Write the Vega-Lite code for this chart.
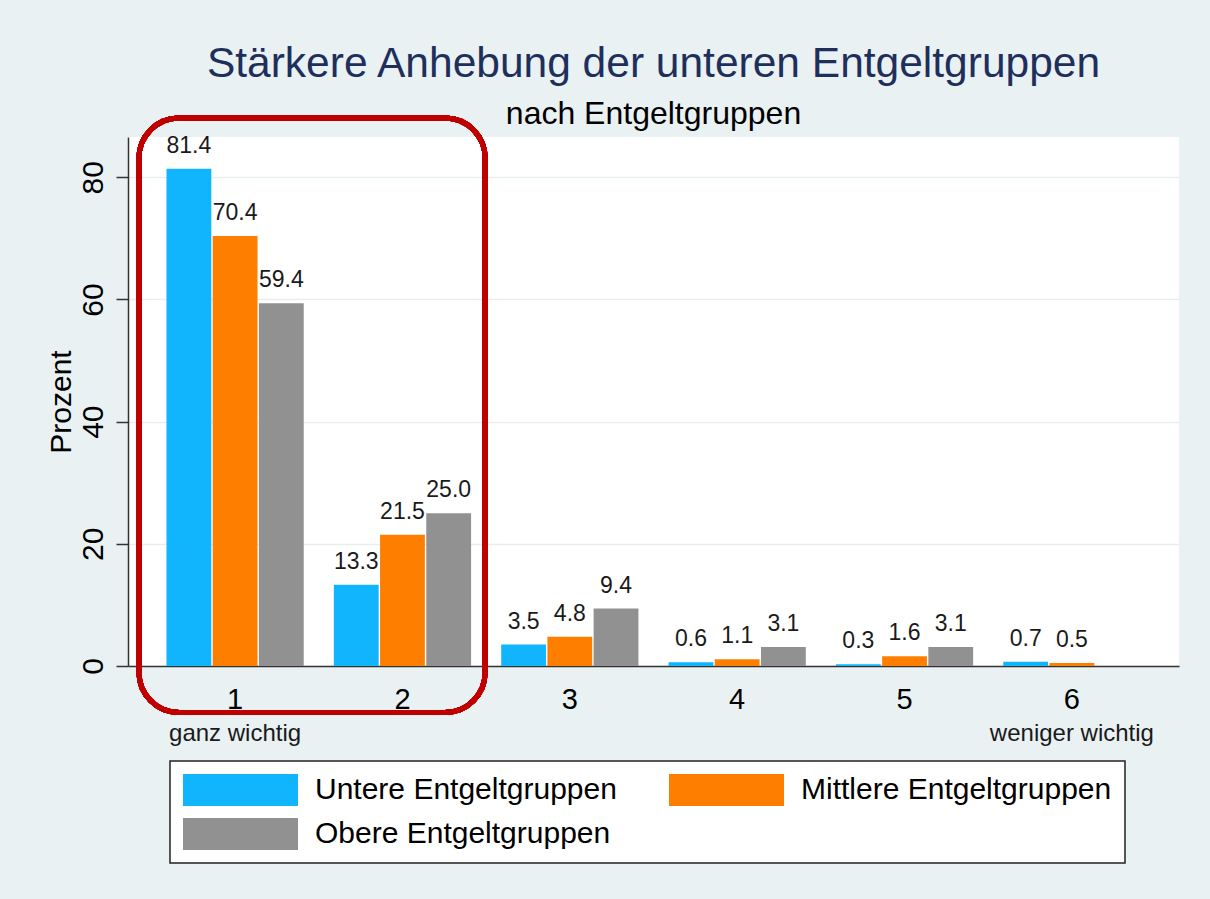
{
  "$schema": "https://vega.github.io/schema/vega-lite/v6.json",
  "width": 1051,
  "height": 529,
  "autosize": {"type": "none"},
  "padding": {"left": 128, "top": 137, "right": 31, "bottom": 233},
  "background": "#e9f1f3",
  "title": {
    "text": "Stärkere Anhebung der unteren Entgeltgruppen",
    "subtitle": "nach Entgeltgruppen",
    "anchor": "middle",
    "font": "Liberation Sans",
    "fontSize": 42.5,
    "fontWeight": "normal",
    "color": "#1f2f5c",
    "subtitleFont": "Liberation Sans",
    "subtitleFontSize": 32,
    "subtitleColor": "#000000",
    "subtitlePadding": 13,
    "offset": -14
  },
  "config": {"view": {"stroke": null, "fill": "white"}, "font": "Liberation Sans"},
  "data": {
    "values": [
      {"stufe": "1", "gruppe": "Untere Entgeltgruppen", "prozent": 81.4},
      {"stufe": "1", "gruppe": "Mittlere Entgeltgruppen", "prozent": 70.4},
      {"stufe": "1", "gruppe": "Obere Entgeltgruppen", "prozent": 59.4},
      {"stufe": "2", "gruppe": "Untere Entgeltgruppen", "prozent": 13.3},
      {"stufe": "2", "gruppe": "Mittlere Entgeltgruppen", "prozent": 21.5},
      {"stufe": "2", "gruppe": "Obere Entgeltgruppen", "prozent": 25.0},
      {"stufe": "3", "gruppe": "Untere Entgeltgruppen", "prozent": 3.5},
      {"stufe": "3", "gruppe": "Mittlere Entgeltgruppen", "prozent": 4.8},
      {"stufe": "3", "gruppe": "Obere Entgeltgruppen", "prozent": 9.4},
      {"stufe": "4", "gruppe": "Untere Entgeltgruppen", "prozent": 0.6},
      {"stufe": "4", "gruppe": "Mittlere Entgeltgruppen", "prozent": 1.1},
      {"stufe": "4", "gruppe": "Obere Entgeltgruppen", "prozent": 3.1},
      {"stufe": "5", "gruppe": "Untere Entgeltgruppen", "prozent": 0.3},
      {"stufe": "5", "gruppe": "Mittlere Entgeltgruppen", "prozent": 1.6},
      {"stufe": "5", "gruppe": "Obere Entgeltgruppen", "prozent": 3.1},
      {"stufe": "6", "gruppe": "Untere Entgeltgruppen", "prozent": 0.7},
      {"stufe": "6", "gruppe": "Mittlere Entgeltgruppen", "prozent": 0.5}
    ]
  },
  "layer": [
    {
      "mark": {"type": "bar"},
      "encoding": {
        "x": {
          "field": "stufe", "type": "nominal",
          "scale": {"domain": ["1", "2", "3", "4", "5", "6"], "paddingInner": 0.18, "paddingOuter": 0.23},
          "axis": {
            "orient": "bottom", "title": null, "labelAngle": 0, "labelFontSize": 29, "labelColor": "#000000",
            "labelBaseline": "top", "labelPadding": 19, "ticks": false, "tickSize": 0,
            "domainColor": "#333333", "domainWidth": 1.5, "grid": false
          }
        },
        "xOffset": {
          "field": "gruppe", "type": "nominal",
          "scale": {"domain": ["Untere Entgeltgruppen", "Mittlere Entgeltgruppen", "Obere Entgeltgruppen"], "paddingInner": 0.03}
        },
        "y": {
          "field": "prozent", "type": "quantitative",
          "scale": {"domain": [0, 86.6], "nice": false},
          "axis": {
            "title": "Prozent", "values": [0, 20, 40, 60, 80], "labelAngle": -90, "labelAlign": "center",
            "labelBaseline": "bottom", "labelFontSize": 30, "labelColor": "#000000", "labelPadding": 8,
            "tickSize": 12, "tickColor": "#333333", "tickWidth": 1.5, "domainColor": "#333333", "domainWidth": 1.5,
            "gridColor": "#e6eef1", "gridWidth": 1.5, "titleFontSize": 30, "titleFontWeight": "normal",
            "titleColor": "#000000", "titlePadding": 2
          }
        },
        "color": {
          "field": "gruppe", "type": "nominal",
          "scale": {"domain": ["Untere Entgeltgruppen", "Mittlere Entgeltgruppen", "Obere Entgeltgruppen"], "range": ["#11b5fe", "#fe7f00", "#919191"]},
          "legend": {
            "title": null, "orient": "none", "legendX": 42, "legendY": 624, "columns": 2, "direction": "horizontal",
            "fillColor": "white", "strokeColor": "#222222", "padding": 13,
            "symbolType": "M-1,-1L6.1875,-1L6.1875,1L-1,1Z", "symbolSize": 1024, "symbolStrokeWidth": 0,
            "symbolOpacity": 1, "labelFontSize": 30, "labelFont": "Liberation Sans", "labelColor": "#000000",
            "labelOffset": 100, "labelLimit": 600, "columnPadding": 52, "rowPadding": 12, "gridAlign": "each",
            "encode": {"legend": {"update": {"strokeWidth": {"value": 1.5}}}}
          }
        }
      }
    },
    {
      "mark": {"type": "text", "baseline": "alphabetic", "dy": -16, "fontSize": 23, "font": "Liberation Sans", "color": "#1a1a1a"},
      "encoding": {
        "x": {"field": "stufe", "type": "nominal", "axis": null},
        "xOffset": {"field": "gruppe", "type": "nominal"},
        "y": {"field": "prozent", "type": "quantitative"},
        "text": {"field": "prozent", "type": "quantitative", "format": ".1f"}
      }
    },
    {
      "mark": {"type": "rect", "filled": false, "stroke": "#c00000", "strokeWidth": 5, "cornerRadius": 40, "xOffset": -27.5, "x2Offset": 14},
      "encoding": {
        "x": {
          "datum": "1", "type": "nominal", "bandPosition": 0,
          "axis": {
            "orient": "bottom", "title": null, "domain": false, "ticks": false, "tickSize": 0, "grid": false,
            "labelAngle": 0, "labelBaseline": "top", "labelFontSize": 24, "labelColor": "#1a1a1a", "labelPadding": 55,
            "labelExpr": "datum.value == '1' ? 'ganz wichtig' : datum.value == '6' ? 'weniger wichtig' : ''"
          }
        },
        "x2": {"datum": "2", "bandPosition": 1},
        "y": {"datum": 89.7, "type": "quantitative", "scale": {"domain": [0, 86.6], "nice": false}, "title": "Prozent"},
        "y2": {"datum": -7.6}
      }
    }
  ],
  "resolve": {"axis": {"x": "independent"}}
}
